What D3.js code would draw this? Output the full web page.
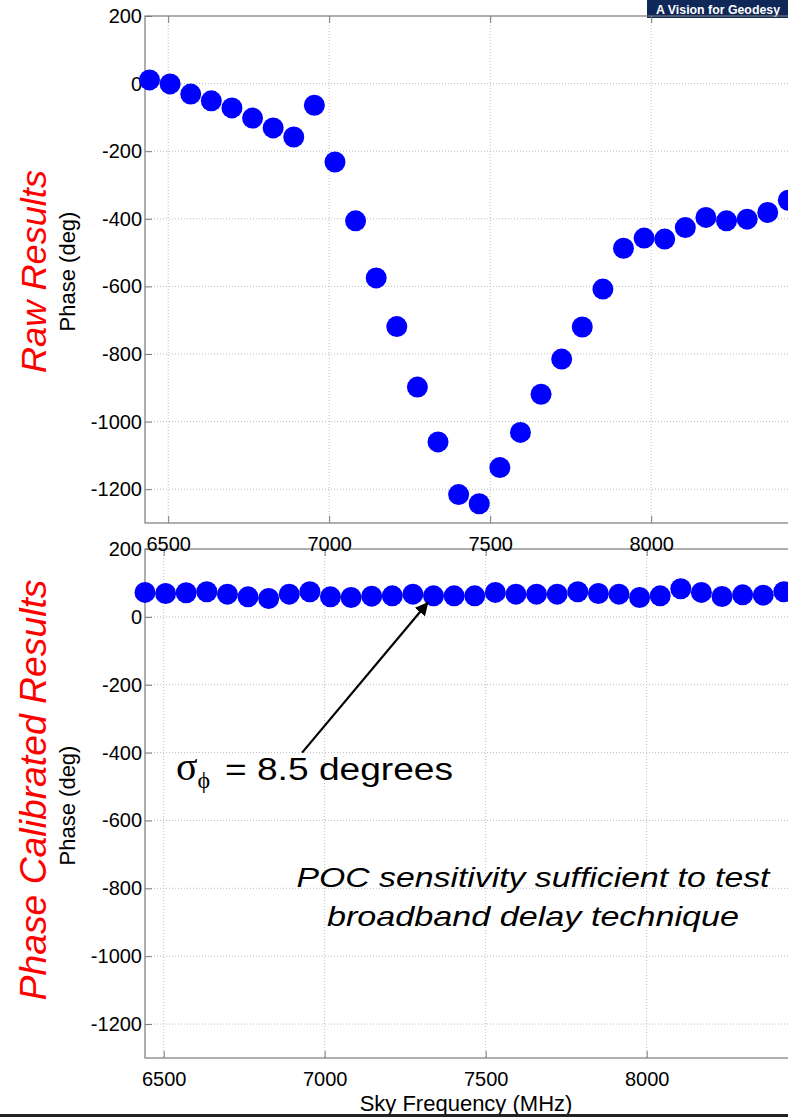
<!DOCTYPE html>
<html lang="en">
<head>
<meta charset="utf-8"/>
<title>Raw and phase calibrated results</title>
<script src="https://cdn.jsdelivr.net/npm/d3@7"></script>
<style>
  body { margin: 0; background: #fff; }
  svg { display: block; }
  text { font-family: "Liberation Sans", Arial, sans-serif; }
</style>
</head>
<body>
<svg id="chart" width="788" height="1117"></svg>
<script>
// sky frequency of each channel (MHz)
const freqs = [6442, 6506, 6570, 6634, 6698, 6762, 6826, 6890, 6954, 7018, 7082, 7146, 7210, 7274, 7338, 7402,
               7466, 7530, 7594, 7658, 7722, 7786, 7850, 7914, 7978, 8042, 8106, 8170, 8234, 8298, 8362, 8426];
// phase before calibration (deg)
const rawPhase = [11, -1, -31, -51, -72, -102, -131, -158, -64, -232, -406, -575, -719, -898, -1060, -1216,
                  -1243, -1136, -1032, -919, -815, -720, -608, -487, -457, -460, -426, -396, -406, -401, -381, -345];
// phase after phase calibration (deg)
const calPhase = [72, 69, 71, 74, 67, 59, 54, 67, 74, 59, 57, 61, 62, 67, 62, 62,
                  62, 72, 67, 67, 67, 74, 69, 67, 57, 62, 83, 72, 60, 65, 64, 74];

const xTicks = [6500, 7000, 7500, 8000];
const yTicks = [-1200, -1000, -800, -600, -400, -200, 0, 200];

// annotation: arrow from this (freq, phase) to the channel below
const arrowFrom = [6930, -400];
const arrowChannel = 14;

const svg = d3.select('#chart');
const W = 788;

// banner in the corner of the slide
svg.append('rect').attr('x', 647).attr('y', 0).attr('width', 141).attr('height', 18).attr('fill', '#0f2858');
svg.append('text')
  .attr('x', 656).attr('y', 14)
  .attr('font-size', 13).attr('font-weight', 'bold').attr('fill', '#fff')
  .attr('textLength', 124).attr('lengthAdjust', 'spacingAndGlyphs')
  .text('A Vision for Geodesy');

function panel(top, bottom, xStart, values) {
  const x = d3.scaleLinear().domain([xStart, 8500]).range([145, 145 + (8500 - xStart) * 0.322]);
  const y = d3.scaleLinear().domain([-1300, 200]).range([bottom, top]);
  const g = svg.append('g');

  // dotted grid
  g.append('g').selectAll('line').data(xTicks).join('line')
    .attr('x1', d => x(d)).attr('x2', d => x(d)).attr('y1', top).attr('y2', bottom)
    .attr('stroke', '#bdbdbd').attr('stroke-dasharray', '1,2');
  g.append('g').selectAll('line').data(yTicks.filter(d => d < 200)).join('line')
    .attr('x1', 145).attr('x2', W).attr('y1', d => y(d)).attr('y2', d => y(d))
    .attr('stroke', '#bdbdbd').attr('stroke-dasharray', '1,2');

  // box
  g.append('rect').attr('x', 145).attr('y', top).attr('width', 700).attr('height', bottom - top)
    .attr('fill', 'none').attr('stroke', '#7a7a7a').attr('stroke-width', 1.2);

  const ax = g.append('g').attr('transform', `translate(0,${bottom})`)
    .call(d3.axisBottom(x).tickValues(xTicks).tickFormat(d => String(d)).tickSizeInner(-7).tickSizeOuter(0).tickPadding(14));
  const axTop = g.append('g').attr('transform', `translate(0,${top})`)
    .call(d3.axisTop(x).tickValues(xTicks).tickFormat('').tickSizeInner(-7).tickSizeOuter(0));
  const ay = g.append('g').attr('transform', 'translate(145,0)')
    .call(d3.axisLeft(y).tickValues(yTicks).tickFormat(d => String(d)).tickSizeInner(-7).tickSizeOuter(0).tickPadding(3));
  [ax, axTop, ay].forEach(a => {
    a.attr('font-family', null).attr('font-size', null);
    a.select('.domain').remove();
    a.selectAll('.tick line').attr('stroke', '#7a7a7a');
    a.selectAll('text').attr('font-size', 20).attr('fill', '#000');
  });

  g.append('text')
    .attr('transform', `translate(75,${(top + bottom) / 2 + 2}) rotate(-90)`)
    .attr('text-anchor', 'middle').attr('font-size', 22)
    .text('Phase (deg)');

  g.append('g').selectAll('circle').data(values).join('circle')
    .attr('cx', (d, i) => x(freqs[i])).attr('cy', d => y(d)).attr('r', 10.5)
    .attr('fill', '#0000ff');

  return { x, y };
}

const low = panel(549, 1058, 6442, calPhase);
const up = panel(16, 523, 6428, rawPhase);

// red panel titles
function sideTitle(label, cy, len, size) {
  svg.append('text')
    .attr('transform', `translate(46,${cy}) rotate(-90)`)
    .attr('text-anchor', 'middle')
    .attr('font-family', '"Open Sans", sans-serif').attr('font-style', 'italic')
    .attr('font-size', size).attr('fill', '#ff0000')
    .attr('textLength', len).attr('lengthAdjust', 'spacingAndGlyphs')
    .text(label);
}
sideTitle('Raw Results', 271.5, 203, 35);
sideTitle('Phase Calibrated Results', 790, 421, 37);

// x axis title
svg.append('text').attr('x', 466).attr('y', 1111).attr('text-anchor', 'middle')
  .attr('font-size', 22).text('Sky Frequency (MHz)');

// arrow to the calibrated point
svg.append('defs').append('marker')
  .attr('id', 'head').attr('viewBox', '0 0 10 10').attr('refX', 10).attr('refY', 5)
  .attr('markerWidth', 6).attr('markerHeight', 6).attr('orient', 'auto')
  .append('path').attr('d', 'M0,0 L10,5 L0,10 z').attr('fill', '#000');
const ax0 = low.x(arrowFrom[0]), ay0 = low.y(arrowFrom[1]);
const px = low.x(freqs[arrowChannel]), py = low.y(calPhase[arrowChannel]);
const dist = Math.hypot(px - ax0, py - ay0);
svg.append('line')
  .attr('x1', ax0).attr('y1', ay0)
  .attr('x2', px - (px - ax0) * 8 / dist).attr('y2', py - (py - ay0) * 8 / dist)
  .attr('stroke', '#000').attr('stroke-width', 2.2).attr('marker-end', 'url(#head)');

// sigma annotation
const sig = svg.append('text').attr('y', 780);
sig.append('tspan').attr('x', 176).attr('font-family', '"Liberation Serif", serif').attr('font-size', 40).text('σ');
sig.append('tspan').attr('dy', 8).attr('font-family', '"Liberation Serif", serif').attr('font-size', 24).text('ϕ');
svg.append('text').attr('x', 225).attr('y', 780)
  .attr('font-family', '"Open Sans", sans-serif').attr('font-size', 31)
  .attr('textLength', 228).attr('lengthAdjust', 'spacingAndGlyphs')
  .text('= 8.5 degrees');

// italic note
const note = svg.append('text').attr('text-anchor', 'middle')
  .attr('font-family', '"Open Sans", sans-serif').attr('font-style', 'italic').attr('font-size', 28);
note.append('tspan').attr('x', 533).attr('y', 887)
  .attr('textLength', 473).attr('lengthAdjust', 'spacingAndGlyphs')
  .text('POC sensitivity sufficient to test');
note.append('tspan').attr('x', 533).attr('y', 926)
  .attr('textLength', 412).attr('lengthAdjust', 'spacingAndGlyphs')
  .text('broadband delay technique');

// slide edge
svg.append('rect').attr('x', 0).attr('y', 1114).attr('width', W).attr('height', 3).attr('fill', '#222');
</script>
</body>
</html>
